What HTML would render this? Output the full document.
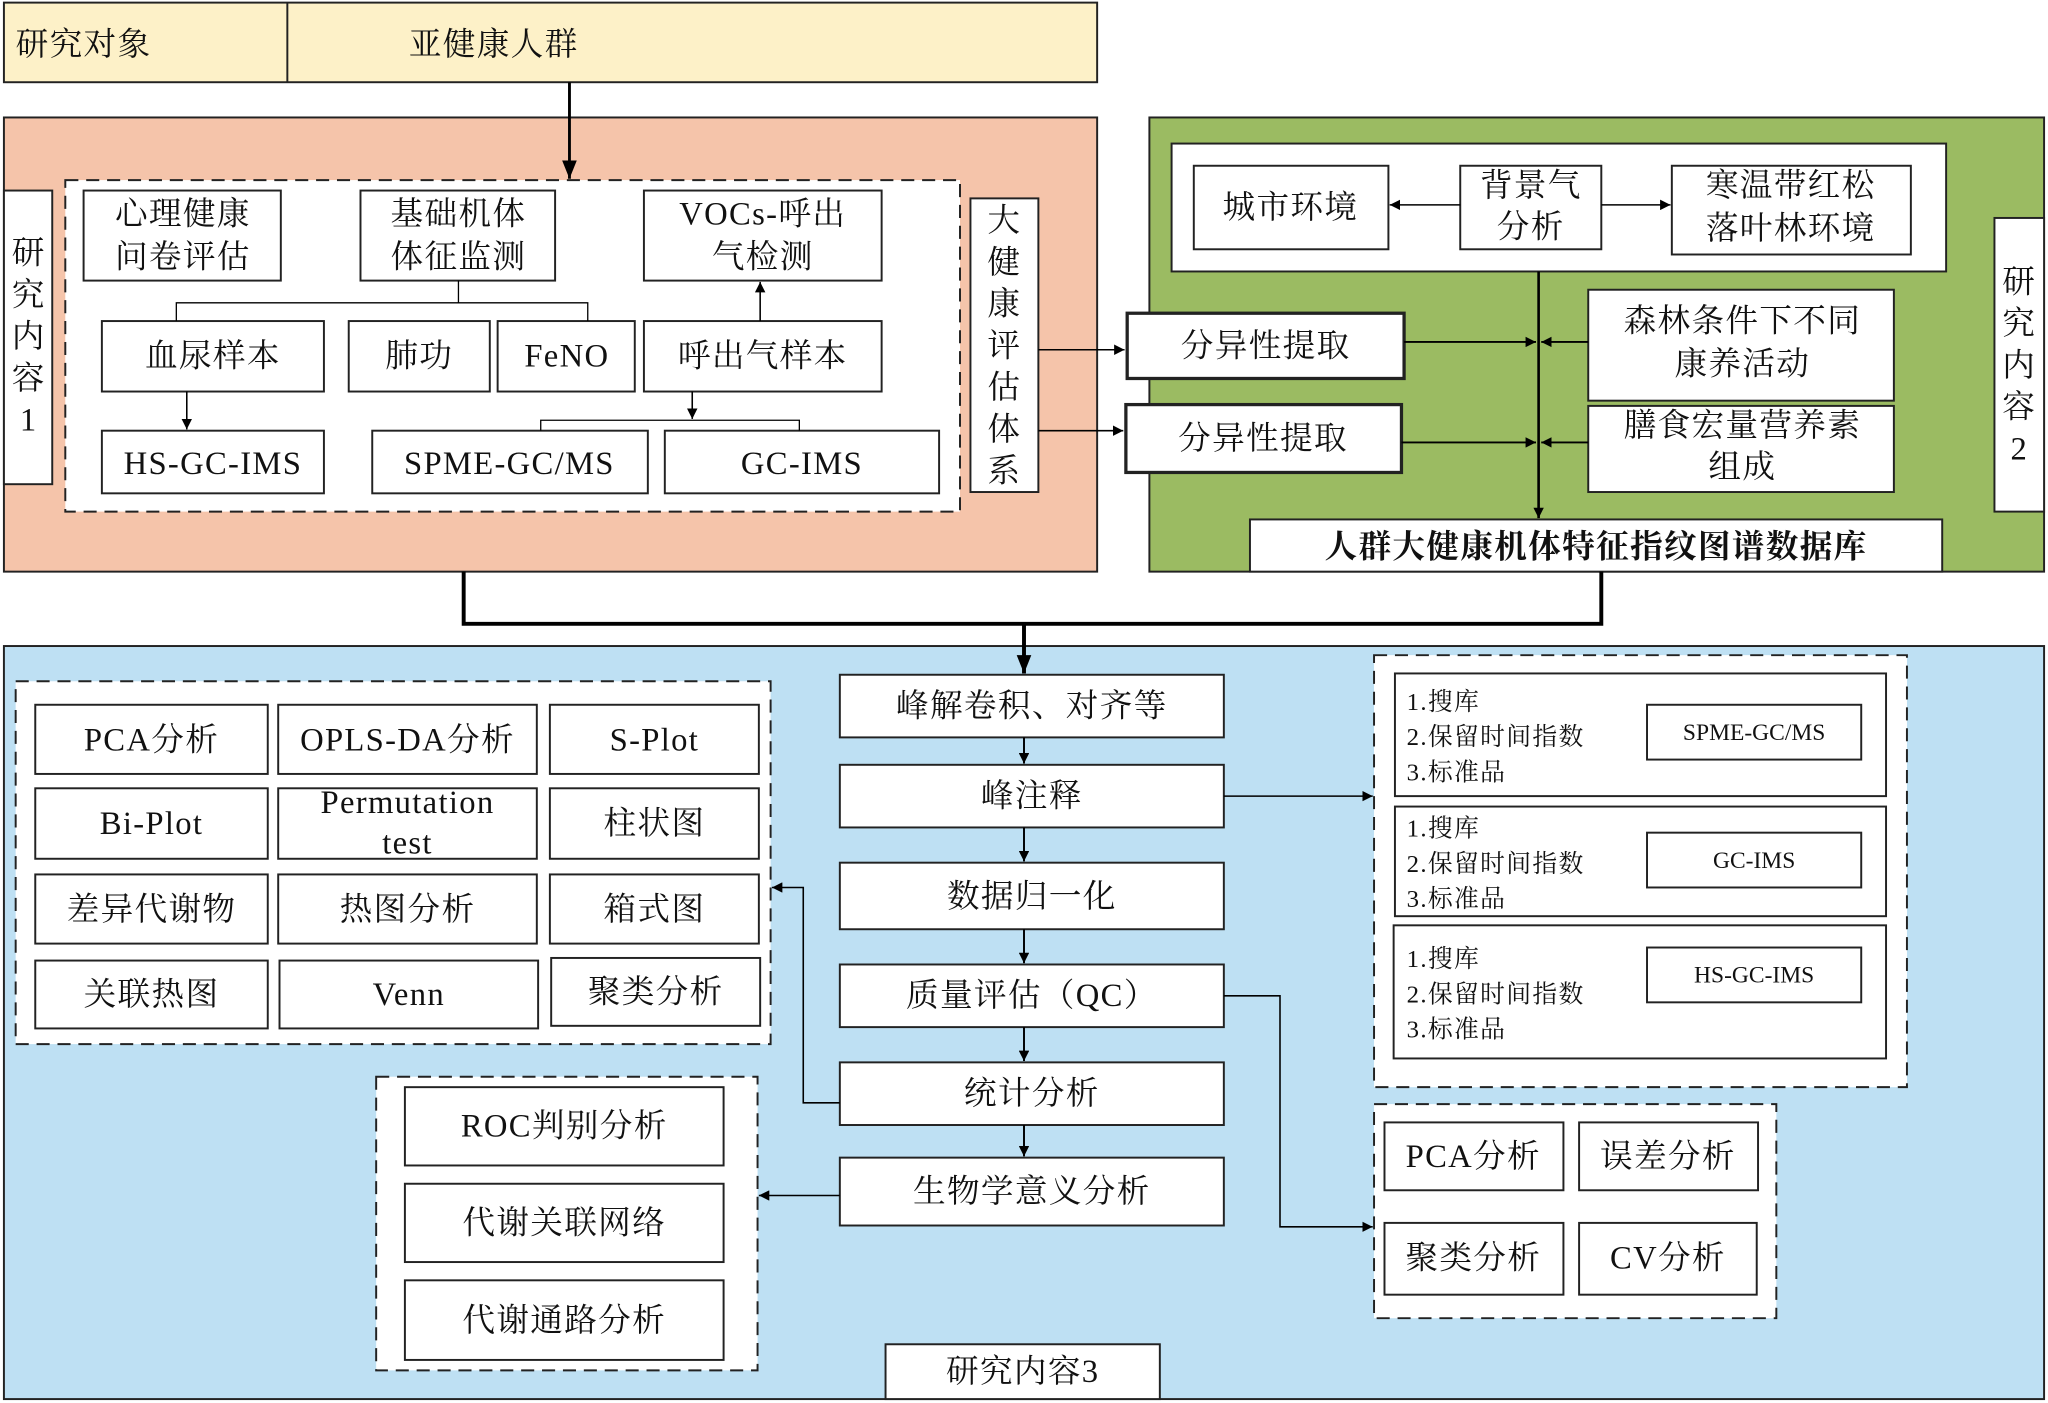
<!DOCTYPE html>
<html><head><meta charset="utf-8"><style>
html,body{margin:0;padding:0;background:#fff;}
svg{display:block;}
text{font-family:"Liberation Serif","Noto Serif CJK SC",serif;fill:#111;}
</style></head><body>
<svg width="2048" height="1403" viewBox="0 0 1568 1075" preserveAspectRatio="none" xmlns="http://www.w3.org/2000/svg">
<defs>
<marker id="a" viewBox="0 0 10 10" refX="10" refY="5" markerWidth="8" markerHeight="8" orient="auto" markerUnits="userSpaceOnUse"><path d="M0,0L10,5L0,10z" fill="#000"/></marker>
<marker id="b" viewBox="0 0 10 10" refX="10" refY="5" markerWidth="14" markerHeight="14" orient="auto" markerUnits="userSpaceOnUse"><path d="M0,1L10,5L0,9z" fill="#000"/></marker>
</defs>
<g stroke="#222" stroke-width="1.5">
<rect x="3" y="2" width="837" height="61" fill="#fdf1c8"/>
<line x1="220" y1="2" x2="220" y2="63"/>
<rect x="3" y="90" width="837" height="348" fill="#f5c4aa"/>
<rect x="3" y="146" width="37" height="225" fill="#fff"/>
<rect x="50" y="138" width="685" height="254" fill="#fff" stroke-dasharray="10,6"/>
<rect x="64" y="146" width="151" height="69" fill="#fff"/>
<rect x="276" y="146" width="149" height="69" fill="#fff"/>
<rect x="493" y="146" width="182" height="69" fill="#fff"/>
<rect x="78" y="246" width="170" height="54" fill="#fff"/>
<rect x="267" y="246" width="108" height="54" fill="#fff"/>
<rect x="381" y="246" width="105" height="54" fill="#fff"/>
<rect x="493" y="246" width="182" height="54" fill="#fff"/>
<rect x="78" y="330" width="170" height="48" fill="#fff"/>
<rect x="285" y="330" width="211" height="48" fill="#fff"/>
<rect x="509" y="330" width="210" height="48" fill="#fff"/>
<rect x="743" y="152" width="52" height="225" fill="#fff"/>
<rect x="880" y="90" width="685" height="348" fill="#9bbb62"/>
<rect x="897" y="110" width="593" height="98" fill="#fff"/>
<rect x="914" y="127" width="149" height="64" fill="#fff"/>
<rect x="1118" y="127" width="108" height="64" fill="#fff"/>
<rect x="1280" y="127" width="183" height="68" fill="#fff"/>
<rect x="1527" y="167" width="38" height="225" fill="#fff"/>
<rect x="863" y="240" width="212" height="50" fill="#fff" stroke-width="2.5"/>
<rect x="862" y="310" width="211" height="52" fill="#fff" stroke-width="2.5"/>
<rect x="1216" y="222" width="234" height="85" fill="#fff"/>
<rect x="1216" y="311" width="234" height="66" fill="#fff"/>
<rect x="957" y="398" width="530" height="40" fill="#fff"/>
<rect x="3" y="495" width="1562" height="577" fill="#bee0f3"/>
<rect x="12" y="522" width="578" height="278" fill="#fff" stroke-dasharray="10,6"/>
<rect x="27" y="540" width="178" height="53" fill="#fff"/><rect x="213" y="540" width="198" height="53" fill="#fff"/><rect x="421" y="540" width="160" height="53" fill="#fff"/>
<rect x="27" y="604" width="178" height="54" fill="#fff"/><rect x="213" y="604" width="198" height="54" fill="#fff"/><rect x="421" y="604" width="160" height="54" fill="#fff"/>
<rect x="27" y="670" width="178" height="53" fill="#fff"/><rect x="213" y="670" width="198" height="53" fill="#fff"/><rect x="421" y="670" width="160" height="53" fill="#fff"/>
<rect x="27" y="736" width="178" height="52" fill="#fff"/><rect x="214" y="736" width="198" height="52" fill="#fff"/><rect x="422" y="734" width="160" height="52" fill="#fff"/>
<rect x="643" y="517" width="294" height="48" fill="#fff"/>
<rect x="643" y="586" width="294" height="48" fill="#fff"/>
<rect x="643" y="661" width="294" height="51" fill="#fff"/>
<rect x="643" y="739" width="294" height="48" fill="#fff"/>
<rect x="643" y="814" width="294" height="48" fill="#fff"/>
<rect x="643" y="887" width="294" height="52" fill="#fff"/>
<rect x="288" y="825" width="292" height="225" fill="#fff" stroke-dasharray="10,6"/>
<rect x="310" y="833" width="244" height="60" fill="#fff"/>
<rect x="310" y="907" width="244" height="60" fill="#fff"/>
<rect x="310" y="981" width="244" height="61" fill="#fff"/>
<rect x="678" y="1030" width="210" height="42" fill="#fff"/>
<rect x="1052" y="502" width="408" height="331" fill="#fff" stroke-dasharray="10,6"/>
<rect x="1068" y="516" width="376" height="94" fill="#fff"/>
<rect x="1068" y="618" width="376" height="84" fill="#fff"/>
<rect x="1067" y="709" width="377" height="102" fill="#fff"/>
<rect x="1261" y="540" width="164" height="42" fill="#fff"/>
<rect x="1261" y="638" width="164" height="42" fill="#fff"/>
<rect x="1261" y="726" width="164" height="42" fill="#fff"/>
<rect x="1052" y="846" width="308" height="164" fill="#fff" stroke-dasharray="10,6"/>
<rect x="1060" y="860" width="137" height="52" fill="#fff"/><rect x="1209" y="860" width="137" height="52" fill="#fff"/>
<rect x="1060" y="937" width="137" height="55" fill="#fff"/><rect x="1209" y="937" width="136" height="55" fill="#fff"/>
</g>
<g stroke="#000" fill="none">
<line x1="436" y1="63" x2="436" y2="137" stroke-width="2.2" marker-end="url(#b)"/>
<polyline points="351,215 351,232" stroke-width="1"/>
<polyline points="135,246 135,232 450,232 450,246" stroke-width="1"/>
<line x1="582" y1="246" x2="582" y2="216" stroke-width="1.2" marker-end="url(#a)"/>
<line x1="143" y1="300" x2="143" y2="329" stroke-width="1.2" marker-end="url(#a)"/>
<line x1="530" y1="300" x2="530" y2="321" stroke-width="1.2" marker-end="url(#a)"/>
<polyline points="414,330 414,322 612,322 612,330" stroke-width="1"/>
<line x1="795" y1="268" x2="861" y2="268" stroke-width="1.2" marker-end="url(#a)"/>
<line x1="795" y1="330" x2="860" y2="330" stroke-width="1.2" marker-end="url(#a)"/>
<line x1="1118" y1="157" x2="1064" y2="157" stroke-width="1.2" marker-end="url(#a)"/>
<line x1="1226" y1="157" x2="1279" y2="157" stroke-width="1.2" marker-end="url(#a)"/>
<line x1="1178" y1="208" x2="1178" y2="397" stroke-width="2" marker-end="url(#a)"/>
<line x1="1075" y1="262" x2="1176" y2="262" stroke-width="1.5" marker-end="url(#a)"/>
<line x1="1216" y1="262" x2="1180" y2="262" stroke-width="1.5" marker-end="url(#a)"/>
<line x1="1073" y1="339" x2="1176" y2="339" stroke-width="1.5" marker-end="url(#a)"/>
<line x1="1216" y1="339" x2="1180" y2="339" stroke-width="1.5" marker-end="url(#a)"/>
<polyline points="355,438 355,478 1226,478 1226,438" stroke-width="3"/>
<line x1="784" y1="478" x2="784" y2="516" stroke-width="3" marker-end="url(#b)"/>
<line x1="784" y1="565" x2="784" y2="585" stroke-width="1.5" marker-end="url(#a)"/>
<line x1="784" y1="634" x2="784" y2="660" stroke-width="1.5" marker-end="url(#a)"/>
<line x1="784" y1="712" x2="784" y2="738" stroke-width="1.5" marker-end="url(#a)"/>
<line x1="784" y1="787" x2="784" y2="813" stroke-width="1.5" marker-end="url(#a)"/>
<line x1="784" y1="862" x2="784" y2="886" stroke-width="1.5" marker-end="url(#a)"/>
<line x1="937" y1="610" x2="1051" y2="610" stroke-width="1.2" marker-end="url(#a)"/>
<polyline points="937,763 980,763 980,940 1051,940" stroke-width="1.2" marker-end="url(#a)"/>
<polyline points="643,845 615,845 615,680 591,680" stroke-width="1.2" marker-end="url(#a)"/>
<line x1="643" y1="916" x2="581" y2="916" stroke-width="1.2" marker-end="url(#a)"/>
</g>
<g font-size="25" letter-spacing="1">
<text x="12" y="42">研究对象</text>
<text x="378" y="42" text-anchor="middle">亚健康人群</text>
</g>
<g font-size="25" text-anchor="middle" letter-spacing="1">
<text x="22" y="202">研</text><text x="22" y="234">究</text><text x="22" y="266">内</text><text x="22" y="298">容</text><text x="22" y="330">1</text>
<text x="140" y="172">心理健康</text><text x="140" y="205">问卷评估</text>
<text x="351" y="172">基础机体</text><text x="351" y="205">体征监测</text>
<text x="584" y="172">VOCs-呼出</text><text x="584" y="205">气检测</text>
<text x="163" y="281">血尿样本</text><text x="321" y="281">肺功</text><text x="434" y="281">FeNO</text><text x="584" y="281">呼出气样本</text>
<text x="163" y="363">HS-GC-IMS</text><text x="390" y="363">SPME-GC/MS</text><text x="614" y="363">GC-IMS</text>
<text x="769" y="177">大</text><text x="769" y="209">健</text><text x="769" y="241">康</text><text x="769" y="273">评</text><text x="769" y="305">估</text><text x="769" y="337">体</text><text x="769" y="369">系</text>
<text x="988" y="167">城市环境</text>
<text x="1172" y="150">背景气</text><text x="1172" y="182">分析</text>
<text x="1371" y="150">寒温带红松</text><text x="1371" y="183">落叶林环境</text>
<text x="1546" y="224">研</text><text x="1546" y="256">究</text><text x="1546" y="288">内</text><text x="1546" y="320">容</text><text x="1546" y="352">2</text>
<text x="969" y="273">分异性提取</text><text x="967" y="344">分异性提取</text>
<text x="1334" y="254">森林条件下不同</text><text x="1334" y="287">康养活动</text>
<text x="1334" y="334">膳食宏量营养素</text><text x="1334" y="366">组成</text>
<text x="1222" y="427" font-weight="bold">人群大健康机体特征指纹图谱数据库</text>
<text x="116" y="575">PCA分析</text><text x="312" y="575">OPLS-DA分析</text><text x="501" y="575">S-Plot</text>
<text x="116" y="639">Bi-Plot</text><text x="312" y="623">Permutation</text><text x="312" y="654">test</text><text x="501" y="639">柱状图</text>
<text x="116" y="705">差异代谢物</text><text x="312" y="705">热图分析</text><text x="501" y="705">箱式图</text>
<text x="116" y="770">关联热图</text><text x="313" y="770">Venn</text><text x="502" y="768">聚类分析</text>
<text x="790" y="549">峰解卷积、对齐等</text>
<text x="790" y="618">峰注释</text>
<text x="790" y="695">数据归一化</text>
<text x="790" y="771">质量评估（QC）</text>
<text x="790" y="846">统计分析</text>
<text x="790" y="921">生物学意义分析</text>
<text x="432" y="871">ROC判别分析</text>
<text x="432" y="945">代谢关联网络</text>
<text x="432" y="1020">代谢通路分析</text>
<text x="783" y="1059">研究内容3</text>
<text x="1128" y="894">PCA分析</text><text x="1277" y="894">误差分析</text>
<text x="1128" y="972">聚类分析</text><text x="1277" y="972">CV分析</text>
</g>
<g font-size="19" letter-spacing="1">
<text x="1077" y="544">1.搜库</text><text x="1077" y="571">2.保留时间指数</text><text x="1077" y="598">3.标准品</text>
<text x="1077" y="641">1.搜库</text><text x="1077" y="668">2.保留时间指数</text><text x="1077" y="695">3.标准品</text>
<text x="1077" y="741">1.搜库</text><text x="1077" y="768">2.保留时间指数</text><text x="1077" y="795">3.标准品</text>
</g>
<g font-size="18" text-anchor="middle">
<text x="1343" y="567">SPME-GC/MS</text><text x="1343" y="665">GC-IMS</text><text x="1343" y="753">HS-GC-IMS</text>
</g>
</svg>
</body></html>
